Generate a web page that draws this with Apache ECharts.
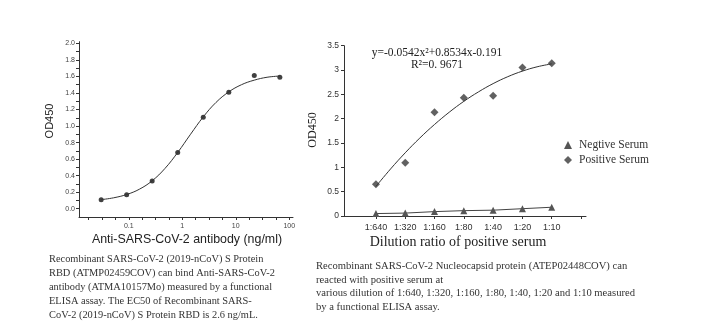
<!DOCTYPE html>
<html><head><meta charset="utf-8">
<script src="https://cdn.jsdelivr.net/npm/echarts@6/dist/echarts.min.js"></script>
<style>html,body{margin:0;padding:0;background:#fff}#c{width:720px;height:333px}</style>
</head><body><div id="c"></div>
<script>
// ---- Left chart data ----
const leftConc = [0.0305, 0.0914, 0.274, 0.823, 2.47, 7.41, 22.2, 66.7];
const leftOD = [0.11, 0.17, 0.335, 0.68, 1.105, 1.41, 1.61, 1.59];
const leftCurveConc = [0.0305, 0.052, 0.0914, 0.158, 0.274, 0.475, 0.823, 1.43, 2.47, 4.28, 7.41, 12.8, 22.2, 38.5, 66.7];
const leftCurveOD = [0.11, 0.132, 0.172, 0.236, 0.338, 0.487, 0.681, 0.901, 1.111, 1.286, 1.413, 1.50, 1.555, 1.59, 1.605];
const leftYTicks = [0, 0.2, 0.4, 0.6, 0.8, 1.0, 1.2, 1.4, 1.6, 1.8, 2.0];
const leftXTickLabels = ['0.1', '1', '10', '100'];
const leftXTickConc = [0.1, 1, 10, 100];

// ---- Right chart data ----
const dilutions = ['1:640', '1:320', '1:160', '1:80', '1:40', '1:20', '1:10'];
const positiveSerum = [0.65, 1.095, 2.13, 2.43, 2.47, 3.05, 3.14];
const negativeSerum = [0.05, 0.06, 0.09, 0.11, 0.12, 0.15, 0.18];
const fitX = [1, 1.5, 2, 2.5, 3, 3.5, 4, 4.5, 5, 5.5, 6, 6.5, 7];
const fitY = [0.608, 0.967, 1.299, 1.604, 1.881, 2.132, 2.356, 2.551, 2.721, 2.863, 2.978, 3.066, 3.127];

const leftCaption = [
  'Recombinant SARS-CoV-2 (2019-nCoV) S Protein',
  'RBD (ATMP02459COV) can bind Anti-SARS-CoV-2',
  'antibody (ATMA10157Mo) measured by a functional',
  'ELISA assay. The EC50 of Recombinant SARS-',
  'CoV-2 (2019-nCoV) S Protein RBD is 2.6 ng/mL.'
];
const rightCaption = [
  'Recombinant SARS-CoV-2 Nucleocapsid protein (ATEP02448COV) can',
  'reacted with positive serum at',
  'various dilution of 1:640, 1:320, 1:160, 1:80, 1:40, 1:20 and 1:10 measured',
  'by a functional ELISA assay.'
];

const SANS = '"Liberation Sans", Arial, sans-serif';
const SERIF = '"Liberation Serif", "Times New Roman", serif';
const AX = '#333';

// Left axes are expressed relative to their lower bound so that the axis
// lines sit on the plot edges (log10 scale starting at 10^-1.93, OD starting at -0.1).
const X0 = -1.93, X1 = 2.07, Y0 = -0.1, Y1 = 2.02;
const lx = c => Math.log10(c) - X0;
const ly = v => v - Y0;
const r = v => Math.round(v * 1000) / 1000;

const leftYAllTicks = [];
for (let i = 0; i < leftYTicks.length; i++) {
  leftYAllTicks.push(r(ly(leftYTicks[i])));
  if (i < leftYTicks.length - 1) leftYAllTicks.push(r(ly(leftYTicks[i] + 0.1)));
}
const leftYLabelVals = leftYTicks.map(v => r(ly(v)));
const leftMajorX = leftXTickConc.map(c => r(lx(c)));
const leftXAllTicks = leftMajorX.slice();
for (let d = -2; d < 2; d++) for (const f of [0.25, 0.5, 0.75]) { const v = d + f; if (v > X0 && v < X1) leftXAllTicks.push(r(v - X0)); }
leftXAllTicks.sort((a, b) => a - b);

const chart = echarts.init(document.getElementById('c'), null, {renderer: 'canvas'});
const texts = [];
leftCaption.forEach((t, i) => texts.push({type: 'text', x: 49, y: 259.5 + i * 13.9, style: {text: t, font: '10.4px ' + SERIF, fill: '#333', verticalAlign: 'middle'}}));
rightCaption.forEach((t, i) => texts.push({type: 'text', x: 316, y: 266 + i * 13.8, style: {text: t, font: '10.6px ' + SERIF, fill: '#333', verticalAlign: 'middle'}}));

chart.setOption({
  animation: false,
  backgroundColor: '#fff',
  grid: [
    {left: 79, top: 41.7, width: 214, height: 175.3},
    {left: 344, top: 45.7, width: 242, height: 170.3}
  ],
  legend: {
    left: 559, top: 134, orient: 'vertical', itemWidth: 8, itemHeight: 8, itemGap: 3,
    textStyle: {fontFamily: SERIF, fontSize: 11.5, color: '#333', padding: [0, 0, 0, 2]},
    data: [{name: 'Negtive Serum', icon: 'triangle'}, {name: 'Positive Serum', icon: 'diamond'}]
  },
  xAxis: [
    {gridIndex: 0, type: 'value', min: 0, max: r(X1 - X0),
     axisLine: {show: true, lineStyle: {color: AX, width: 1}}, splitLine: {show: false},
     axisTick: {show: true, customValues: leftXAllTicks, length: 3, lineStyle: {color: AX}},
     axisLabel: {customValues: leftMajorX, formatter: v => leftXTickLabels[leftMajorX.findIndex(x => Math.abs(x - v) < 1e-6)], fontFamily: SANS, fontSize: 7, color: '#444', margin: 6}},
    {gridIndex: 1, type: 'value', min: -0.09, max: 8.17,
     axisLine: {show: true, onZero: false, lineStyle: {color: AX, width: 1}}, splitLine: {show: false},
     axisTick: {show: true, customValues: [1, 2, 3, 4, 5, 6, 7, 8], length: 3, lineStyle: {color: AX}},
     axisLabel: {customValues: [1, 2, 3, 4, 5, 6, 7], formatter: v => dilutions[Math.round(v) - 1], fontFamily: SANS, fontSize: 9, color: '#333', margin: 7}}
  ],
  yAxis: [
    {gridIndex: 0, type: 'value', min: 0, max: r(Y1 - Y0),
     axisLine: {show: true, lineStyle: {color: AX, width: 1}}, splitLine: {show: false},
     axisTick: {show: true, customValues: leftYAllTicks, length: 3, lineStyle: {color: AX}},
     axisLabel: {customValues: leftYLabelVals, formatter: v => (v + Y0).toFixed(1), fontFamily: SANS, fontSize: 7, color: '#444', margin: 4}},
    {gridIndex: 1, type: 'value', min: 0, max: 3.5, interval: 0.5,
     axisLine: {show: true, onZero: false, lineStyle: {color: AX, width: 1}}, splitLine: {show: false},
     axisTick: {show: true, length: 3, lineStyle: {color: AX}},
     axisLabel: {fontFamily: SANS, fontSize: 8.5, color: '#333', margin: 5}}
  ],
  series: [
    {type: 'line', xAxisIndex: 0, yAxisIndex: 0, smooth: 0.4, symbol: 'none',
     lineStyle: {color: '#333', width: 1}, data: leftCurveConc.map((c, i) => [lx(c), ly(leftCurveOD[i])])},
    {type: 'scatter', xAxisIndex: 0, yAxisIndex: 0, symbol: 'circle', symbolSize: 5,
     itemStyle: {color: '#111'}, data: leftConc.map((c, i) => [lx(c), ly(leftOD[i])])},
    {type: 'line', xAxisIndex: 1, yAxisIndex: 1, smooth: 0.4, symbol: 'none',
     lineStyle: {color: '#333', width: 1}, data: fitX.map((x, i) => [x, fitY[i]])},
    {name: 'Positive Serum', type: 'scatter', xAxisIndex: 1, yAxisIndex: 1, symbol: 'diamond', symbolSize: 8,
     itemStyle: {color: '#3a3a3a'}, data: positiveSerum.map((v, i) => [i + 1, v])},
    {name: 'Negtive Serum', type: 'line', xAxisIndex: 1, yAxisIndex: 1, symbol: 'triangle', symbolSize: 7, showSymbol: true,
     lineStyle: {color: '#444', width: 1}, itemStyle: {color: '#555'}, data: negativeSerum.map((v, i) => [i + 1, v])}
  ],
  graphic: [
    {type: 'text', x: 50, y: 121, rotation: Math.PI / 2, style: {text: 'OD450', font: '11px ' + SANS, fill: '#222', align: 'center', verticalAlign: 'middle'}},
    {type: 'text', x: 187, y: 239.5, style: {text: 'Anti-SARS-CoV-2 antibody (ng/ml)', font: '12.4px ' + SANS, fill: '#222', align: 'center', verticalAlign: 'middle'}},
    {type: 'text', x: 313, y: 130, rotation: Math.PI / 2, style: {text: 'OD450', font: '12px ' + SERIF, fill: '#222', align: 'center', verticalAlign: 'middle'}},
    {type: 'text', x: 458, y: 242, style: {text: 'Dilution ratio of positive serum', font: '14px ' + SERIF, fill: '#222', align: 'center', verticalAlign: 'middle'}},
    {type: 'text', x: 437, y: 53, style: {text: 'y=-0.0542x²+0.8534x-0.191', font: '11.5px ' + SERIF, fill: '#222', align: 'center', verticalAlign: 'middle'}},
    {type: 'text', x: 437, y: 65, style: {text: 'R²=0. 9671', font: '11.5px ' + SERIF, fill: '#222', align: 'center', verticalAlign: 'middle'}}
  ].concat(texts)
});
</script></body></html>
